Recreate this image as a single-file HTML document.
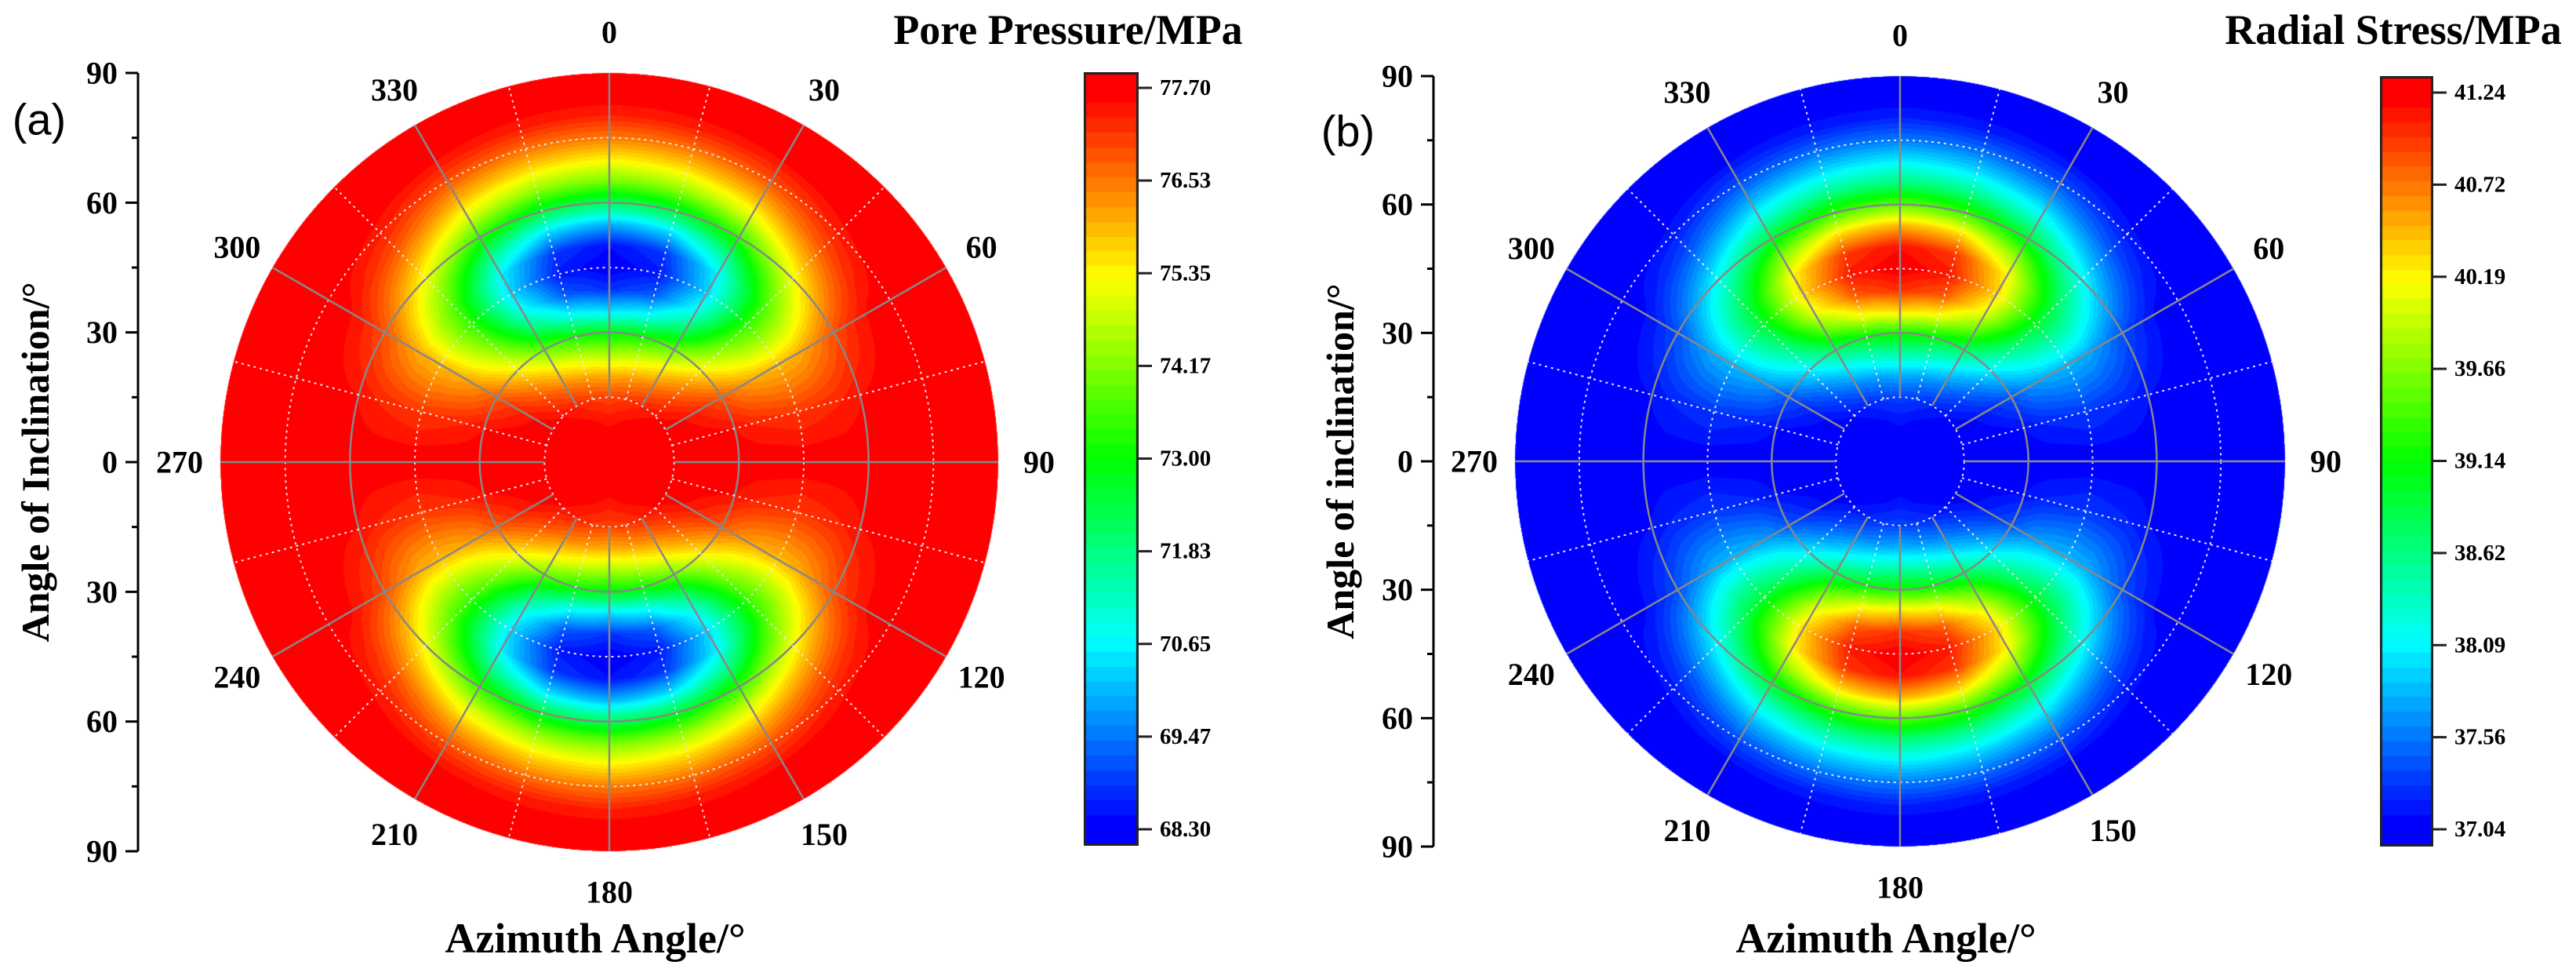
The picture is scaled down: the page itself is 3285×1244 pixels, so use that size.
<!DOCTYPE html>
<html><head><meta charset="utf-8">
<style>
html,body{margin:0;padding:0;background:#fff;}
#wrap{position:relative;width:3285px;height:1244px;overflow:hidden;background:#fff;}
canvas{position:absolute;}
svg{position:absolute;left:0;top:0;}
text{font-family:"Liberation Serif",serif;font-weight:bold;fill:#000;}
</style></head>
<body>
<div id="wrap">
<canvas id="discA"></canvas>
<canvas id="discB"></canvas>
<canvas id="barA"></canvas>
<canvas id="barB"></canvas>
<svg id="ov" width="3285" height="1244"></svg>
</div>
<script>
// ---- data: values on grid of azimuth (0..90 step 15, mirrored) x inclination (0..90 step 5)
const azimuths = [0,15,30,45,60,75,90];
const inclinations = [0,5,10,15,20,25,30,35,40,45,50,55,60,65,70,75,80,85,90];
const poreA0  = [77.7,77.7,77.4,77.0,76.0,74.5,72.8,70.4,68.8,68.3,68.5,70.0,72.2,74.1,75.4,76.5,77.3,77.7,77.7];
const poreA15 = [77.7,77.7,77.5,77.1,76.2,74.8,73.1,70.8,69.2,68.6,68.9,70.4,72.5,74.3,75.6,76.6,77.4,77.7,77.7];
const poreA30 = [77.7,77.7,77.6,77.3,76.5,75.4,73.9,72.2,70.9,70.3,70.6,71.8,73.4,74.9,76.0,76.9,77.5,77.7,77.7];
const poreA45 = [77.7,77.7,77.7,77.5,77.0,76.3,75.4,74.5,73.8,73.4,73.6,74.3,75.2,76.1,76.9,77.4,77.7,77.7,77.7];
const poreA60 = [77.7,77.7,77.7,77.7,77.5,77.2,76.8,76.3,76.0,75.9,76.0,76.4,76.9,77.3,77.6,77.7,77.7,77.7,77.7];
const poreA75 = [77.7,77.7,77.7,77.7,77.7,77.6,77.5,77.3,77.2,77.1,77.2,77.3,77.5,77.6,77.7,77.7,77.7,77.7,77.7];
const poreA90 = [77.7,77.7,77.7,77.7,77.7,77.7,77.7,77.7,77.7,77.7,77.7,77.7,77.7,77.7,77.7,77.7,77.7,77.7,77.7];
const stressA0  = [37.04,37.04,37.17,37.35,37.80,38.47,39.23,40.30,41.02,41.24,41.15,40.48,39.50,38.65,38.07,37.58,37.22,37.04,37.04];
const stressA15 = [37.04,37.04,37.13,37.31,37.71,38.34,39.10,40.12,40.84,41.11,40.97,40.30,39.36,38.56,37.98,37.53,37.17,37.04,37.04];
const stressA30 = [37.04,37.04,37.08,37.22,37.58,38.07,38.74,39.50,40.08,40.35,40.21,39.68,38.96,38.29,37.80,37.40,37.13,37.04,37.04];
const stressA45 = [37.04,37.04,37.04,37.13,37.35,37.67,38.07,38.47,38.78,38.96,38.87,38.56,38.16,37.75,37.40,37.17,37.04,37.04,37.04];
const stressA60 = [37.04,37.04,37.04,37.04,37.13,37.26,37.44,37.67,37.80,37.84,37.80,37.62,37.40,37.22,37.08,37.04,37.04,37.04,37.04];
const stressA75 = [37.04,37.04,37.04,37.04,37.04,37.08,37.13,37.22,37.26,37.31,37.26,37.22,37.13,37.08,37.04,37.04,37.04,37.04,37.04];
const stressA90 = [37.04,37.04,37.04,37.04,37.04,37.04,37.04,37.04,37.04,37.04,37.04,37.04,37.04,37.04,37.04,37.04,37.04,37.04,37.04];
const poreTicks = ["77.70","76.53","75.35","74.17","73.00","71.83","70.65","69.47","68.30"];
const stressTicks = ["41.24","40.72","40.19","39.66","39.14","38.62","38.09","37.56","37.04"];
const angleLabels = [0,30,60,90,120,150,180,210,240,270,300,330];
const inclTickLabels = ["90","60","30","0","30","60","90"];

const poreGrid = [poreA0,poreA15,poreA30,poreA45,poreA60,poreA75,poreA90];
const stressGrid = [stressA0,stressA15,stressA30,stressA45,stressA60,stressA75,stressA90];

function cmap(t){
  const stops=[[0,0,0,255],[0.25,0,255,255],[0.5,0,255,0],[0.75,255,255,0],[1,255,0,0]];
  t=Math.max(0,Math.min(1,t));
  for(let i=0;i<stops.length-1;i++){
    const a=stops[i],b=stops[i+1];
    if(t<=b[0]){const f=(t-a[0])/(b[0]-a[0]);return [a[1]+(b[1]-a[1])*f,a[2]+(b[2]-a[2])*f,a[3]+(b[3]-a[3])*f];}
  }
  return [255,0,0];
}
const LEVELS=50;
function quant(t){t=Math.max(0,Math.min(1,t));return Math.min(LEVELS-1,Math.floor(t*LEVELS))/(LEVELS-1);}
function sample(grid,az,inc){
  let a=az%180; if(a>90)a=180-a;
  const ai=Math.min(azimuths.length-2,Math.floor(a/15)), af=(a-azimuths[ai])/15;
  const ii=Math.min(inclinations.length-2,Math.floor(inc/5)), fi=(inc-inclinations[ii])/5;
  const v00=grid[ai][ii],v01=grid[ai][ii+1],v10=grid[ai+1][ii],v11=grid[ai+1][ii+1];
  return (v00*(1-fi)+v01*fi)*(1-af)+(v10*(1-fi)+v11*fi)*af;
}
function drawDisc(id,grid,cx,cy,R,vmin,vmax){
  const c=document.getElementById(id);
  const s=Math.ceil(R)*2+2; c.width=s;c.height=s;
  c.style.left=(cx-s/2)+'px';c.style.top=(cy-s/2)+'px';
  const ctx=c.getContext('2d');const img=ctx.createImageData(s,s);
  for(let y=0;y<s;y++)for(let x=0;x<s;x++){
    const dx=x+0.5-s/2,dy=y+0.5-s/2;const d=Math.sqrt(dx*dx+dy*dy);
    if(d>R)continue;
    const inc=d/R*90;let az=Math.atan2(dx,-dy)*180/Math.PI;if(az<0)az+=360;
    const v=sample(grid,az,inc);const col=cmap(quant((v-vmin)/(vmax-vmin)));
    const k=(y*s+x)*4;img.data[k]=col[0];img.data[k+1]=col[1];img.data[k+2]=col[2];
    img.data[k+3]=Math.max(0,Math.min(1,R-d+0.5))*255;
  }
  ctx.putImageData(img,0,0);
}
function drawBar(id,x0,y0,w,h,yTop,yBot){
  const c=document.getElementById(id);c.width=w;c.height=h;c.style.left=x0+'px';c.style.top=y0+'px';
  const ctx=c.getContext('2d');
  for(let y=0;y<h;y++){const t=(yBot-(y0+y))/(yBot-yTop);const col=cmap(quant(t));
    ctx.fillStyle=`rgb(${col[0]|0},${col[1]|0},${col[2]|0})`;ctx.fillRect(0,y,w,1);}
  ctx.strokeStyle='#222';ctx.lineWidth=3;ctx.strokeRect(1.5,1.5,w-3,h-3);
}
const NS='http://www.w3.org/2000/svg';const ov=document.getElementById('ov');
function el(tag,attrs,parent){const e=document.createElementNS(NS,tag);for(const k in attrs)e.setAttribute(k,attrs[k]);(parent||ov).appendChild(e);return e;}
function txt(x,y,s,size,anchor,parent){const t=el('text',{x:x,y:y,'font-size':size,'text-anchor':anchor||'middle','dominant-baseline':'central'},parent);t.textContent=s;return t;}

function panel(P){
  const g=el('g',{});
  
  
  drawDisc(P.disc,P.grid,P.cx,P.cy,P.R,P.vmin,P.vmax);
  drawBar(P.bar,P.bx,P.by,P.bw,P.bh,P.tTop,P.tBot);
  const rr=d=>d/90*P.R;
  [15,45,75].forEach(d=>{const c=el('circle',{cx:P.cx,cy:P.cy,r:rr(d),fill:'none',stroke:'#e8e8e8','stroke-width':2,'stroke-dasharray':'3 5'},g);
    
    });
  [30,60].forEach(d=>{const c=el('circle',{cx:P.cx,cy:P.cy,r:rr(d),fill:'none',stroke:'#888','stroke-width':2.5},g);
    
    });
  for(let a=0;a<360;a+=15){const rad=a*Math.PI/180;const major=a%30===0;
    const x1=P.cx+rr(15)*Math.sin(rad),y1=P.cy-rr(15)*Math.cos(rad),x2=P.cx+P.R*Math.sin(rad),y2=P.cy-P.R*Math.cos(rad);
    const l=el('line',{x1:x1,y1:y1,x2:x2,y2:y2,stroke:major?'#888':'#e8e8e8','stroke-width':major?2.5:2,'stroke-dasharray':major?'none':'3 5'},g);
    
    }
  angleLabels.forEach(a=>{const rad=a*Math.PI/180;const L=P.R+52;
    const t=txt(P.cx+L*Math.sin(rad),P.cy-L*Math.cos(rad),String(a),40,'middle',g);
    
    });
  const ax=el('line',{x1:P.ax,y1:P.cy-P.R,x2:P.ax,y2:P.cy+P.R,stroke:'#000','stroke-width':3},g);
  
  
  for(let i=0;i<=12;i++){const y=P.cy-P.R+i*(2*P.R/12);const maj=i%2===0;
    const tk=el('line',{x1:P.ax-(maj?16:8),y1:y,x2:P.ax,y2:y,stroke:'#000','stroke-width':3},g);
    
    
    if(maj){const t=txt(P.ax-26,y,inclTickLabels[i/2],40,'end',g);
      
      }}
  const yt=txt(0,0,P.ytitle,50,'middle',g);yt.setAttribute('transform',`translate(${P.ytx},${P.cy}) rotate(-90)`);
  
  
  const xt=txt(P.cx-18,1196,'Azimuth Angle/°',54,'middle',g);
  
  
  const ct=txt(P.ctx,38,P.ctitle,54,'middle',g);
  
  
  P.ticks.forEach((s,i)=>{const y=P.tTop+i*(P.tBot-P.tTop)/(P.ticks.length-1);
    const tk=el('line',{x1:P.bx+P.bw,y1:y,x2:P.bx+P.bw+17,y2:y,stroke:'#222','stroke-width':3},g);
    
    
    const t=txt(P.bx+P.bw+27,y,s,29,'start',g);
    
    });
  const pl=el('text',{x:P.plx,y:P.ply,'font-size':56,'text-anchor':'middle','dominant-baseline':'central',style:'font-family:"Liberation Sans",sans-serif;font-weight:normal'},g);
  pl.textContent=P.plabel;
  
  
}
panel({name:'panel-a',disc:'discA',bar:'barA',grid:poreGrid,vmin:68.3,vmax:77.7,cx:777,cy:589,R:496,
  bx:1382,by:92,bw:70,bh:986,tTop:112,tBot:1057,ticks:poreTicks,ax:176,ytx:45,
  ytitle:'Angle of Inclination/°',ctx:1362,ctitle:'Pore Pressure/MPa',plabel:'(a)',plx:50,ply:152});
panel({name:'panel-b',disc:'discB',bar:'barB',grid:stressGrid,vmin:37.04,vmax:41.24,cx:2423,cy:588,R:491,
  bx:3035,by:97,bw:68,bh:982,tTop:118,tBot:1057,ticks:stressTicks,ax:1828,ytx:1709,
  ytitle:'Angle of inclination/°',ctx:3052,ctitle:'Radial Stress/MPa',plabel:'(b)',plx:1719,ply:167});
</script>
</body></html>
